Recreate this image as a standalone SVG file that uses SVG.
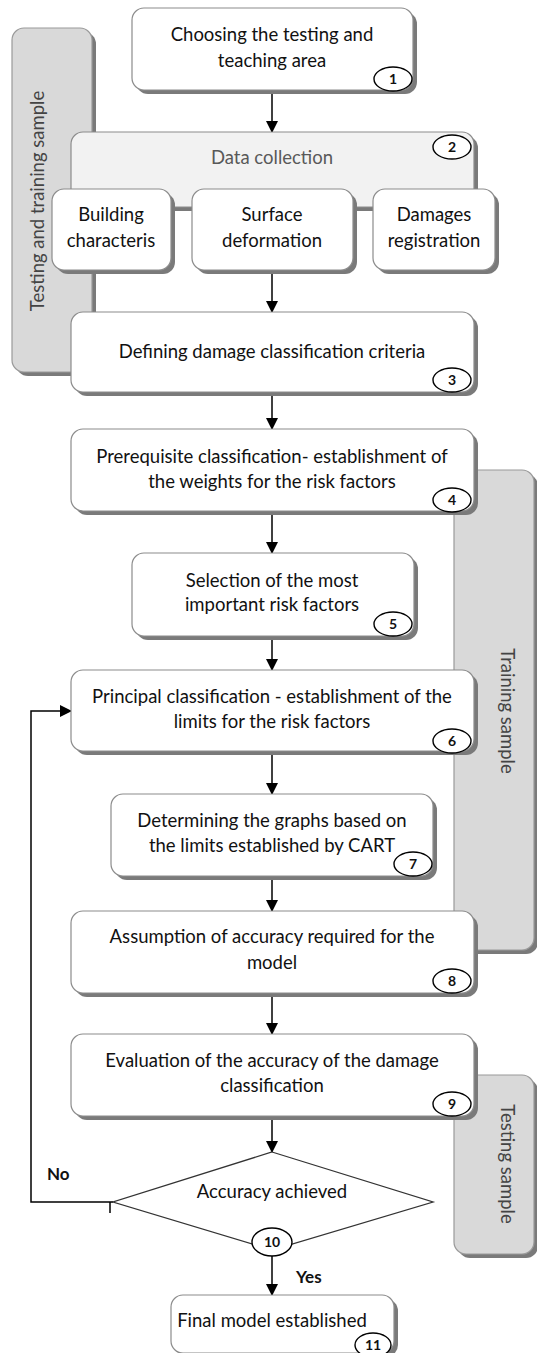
<svg xmlns="http://www.w3.org/2000/svg" width="537" height="1353" viewBox="0 0 537 1353">
<defs>
<marker id="ah" markerWidth="12" markerHeight="12" refX="11" refY="6" orient="auto" markerUnits="userSpaceOnUse">
<path d="M0,0 L12,6 L0,12 Z" fill="#000"/>
</marker>
<style>
.t{font-family:Lato,"Liberation Sans",sans-serif;font-size:18.5px;fill:#111;text-anchor:middle}
.box{fill:#fff;stroke:#8c8c8c;stroke-width:1.2}
.sh{fill:#7a7a7a}
.pan{fill:#d9d9d9;stroke:#9a9a9a;stroke-width:1.2}
.bd{fill:#fff;stroke:#000;stroke-width:1.4}
.bn{font-family:Lato,"Liberation Sans",sans-serif;font-size:14px;font-weight:bold;fill:#111;text-anchor:middle}
.vt{font-family:Lato,"Liberation Sans",sans-serif;font-size:18.5px;fill:#444;text-anchor:middle}
.ln{fill:none;stroke:#000;stroke-width:1.5}
.lb{font-family:Lato,"Liberation Sans",sans-serif;font-size:17px;font-weight:bold;fill:#111}
</style>
</defs>
<rect width="537" height="1353" fill="#fff"/>

<g id="panel-left">
<rect class="sh" x="16" y="32" width="80" height="344" rx="12"/>
<rect class="pan" x="12" y="28" width="80" height="344" rx="12"/>
<text class="vt" transform="translate(44,201) rotate(-90)">Testing and training sample</text>
</g>
<g id="panel-training">
<rect class="sh" x="458" y="474" width="80" height="480" rx="12"/>
<rect class="pan" x="454" y="470" width="80" height="480" rx="12"/>
<text class="vt" transform="translate(501,711) rotate(90)">Training sample</text>
</g>
<g id="panel-testing">
<rect class="sh" x="458" y="1079" width="80" height="179" rx="12"/>
<rect class="pan" x="454" y="1075" width="80" height="179" rx="12"/>
<text class="vt" transform="translate(501,1164) rotate(90)">Testing sample</text>
</g>

<g id="connectors">
<line class="ln" x1="272" y1="90" x2="272" y2="132" marker-end="url(#ah)"/>
<line class="ln" x1="272" y1="270" x2="272" y2="312" marker-end="url(#ah)"/>
<line class="ln" x1="272" y1="392" x2="272" y2="429" marker-end="url(#ah)"/>
<line class="ln" x1="272" y1="511" x2="272" y2="553" marker-end="url(#ah)"/>
<line class="ln" x1="272" y1="636" x2="272" y2="670" marker-end="url(#ah)"/>
<line class="ln" x1="272" y1="751" x2="272" y2="794" marker-end="url(#ah)"/>
<line class="ln" x1="272" y1="876" x2="272" y2="911" marker-end="url(#ah)"/>
<line class="ln" x1="272" y1="993" x2="272" y2="1034" marker-end="url(#ah)"/>
<line class="ln" x1="272" y1="1116" x2="272" y2="1152" marker-end="url(#ah)"/>
<line class="ln" x1="272" y1="1256" x2="272" y2="1295" marker-end="url(#ah)"/>
<path class="ln" d="M113,1202 H31 V711 H71" marker-end="url(#ah)"/>
<line class="ln" x1="110" y1="1202" x2="110" y2="1213"/>
<text class="lb" x="47" y="1180">No</text>
<text class="lb" x="296" y="1283">Yes</text>
</g>

<g id="n1">
<rect class="sh" x="136" y="12" width="281" height="82" rx="12"/>
<rect class="box" x="132" y="8" width="281" height="82" rx="12"/>
<text class="t" x="272" y="41">Choosing the testing and</text>
<text class="t" x="272" y="67">teaching area</text>
<ellipse class="bd" cx="393" cy="79" rx="19" ry="12"/><text class="bn" x="393" y="84">1</text>
</g>

<g id="n2">
<rect class="sh" x="75" y="136" width="403" height="75" rx="12"/>
<rect class="box" x="71" y="132" width="403" height="75" rx="12" style="fill:#f2f2f2"/>
<text class="t" x="272" y="164" style="fill:#595959">Data collection</text>
<ellipse class="bd" cx="452" cy="147" rx="19" ry="12"/><text class="bn" x="452" y="152">2</text>
</g>

<g id="n2a">
<rect class="sh" x="56" y="193" width="119" height="81" rx="12"/>
<rect class="box" x="52" y="189" width="119" height="81" rx="12"/>
<text class="t" x="111" y="221">Building</text>
<text class="t" x="111" y="247">characteris</text>
</g>
<g id="n2b">
<rect class="sh" x="196" y="193" width="161" height="81" rx="12"/>
<rect class="box" x="192" y="189" width="161" height="81" rx="12"/>
<text class="t" x="272" y="221">Surface</text>
<text class="t" x="272" y="247">deformation</text>
</g>
<g id="n2c">
<rect class="sh" x="377" y="193" width="122" height="81" rx="12"/>
<rect class="box" x="373" y="189" width="122" height="81" rx="12"/>
<text class="t" x="434" y="221">Damages</text>
<text class="t" x="434" y="247">registration</text>
</g>

<g id="n3">
<rect class="sh" x="75" y="316" width="403" height="80" rx="12"/>
<rect class="box" x="71" y="312" width="403" height="80" rx="12"/>
<text class="t" x="272" y="358">Defining damage classification criteria</text>
<ellipse class="bd" cx="452" cy="380" rx="19" ry="12"/><text class="bn" x="452" y="385">3</text>
</g>

<g id="n4">
<rect class="sh" x="75" y="433" width="403" height="82" rx="12"/>
<rect class="box" x="71" y="429" width="403" height="82" rx="12"/>
<text class="t" x="272" y="463">Prerequisite classification- establishment of</text>
<text class="t" x="272" y="488">the weights for the risk factors</text>
<ellipse class="bd" cx="452" cy="500" rx="19" ry="12"/><text class="bn" x="452" y="505">4</text>
</g>

<g id="n5">
<rect class="sh" x="136" y="557" width="282" height="83" rx="12"/>
<rect class="box" x="132" y="553" width="282" height="83" rx="12"/>
<text class="t" x="272" y="587">Selection of the most</text>
<text class="t" x="272" y="611">important risk factors</text>
<ellipse class="bd" cx="393" cy="624" rx="19" ry="12"/><text class="bn" x="393" y="629">5</text>
</g>

<g id="n6">
<rect class="sh" x="75" y="674" width="403" height="81" rx="12"/>
<rect class="box" x="71" y="670" width="403" height="81" rx="12"/>
<text class="t" x="272" y="703">Principal classification - establishment of the</text>
<text class="t" x="272" y="728">limits for the risk factors</text>
<ellipse class="bd" cx="452" cy="741" rx="19" ry="12"/><text class="bn" x="452" y="746">6</text>
</g>

<g id="n7">
<rect class="sh" x="115" y="798" width="322" height="82" rx="12"/>
<rect class="box" x="111" y="794" width="322" height="82" rx="12"/>
<text class="t" x="272" y="827">Determining the graphs based on</text>
<text class="t" x="272" y="852">the limits established by CART</text>
<ellipse class="bd" cx="413" cy="864" rx="19" ry="12"/><text class="bn" x="413" y="869">7</text>
</g>

<g id="n8">
<rect class="sh" x="75" y="915" width="403" height="82" rx="12"/>
<rect class="box" x="71" y="911" width="403" height="82" rx="12"/>
<text class="t" x="272" y="943">Assumption of accuracy required for the</text>
<text class="t" x="272" y="969">model</text>
<ellipse class="bd" cx="452" cy="981" rx="19" ry="12"/><text class="bn" x="452" y="986">8</text>
</g>

<g id="n9">
<rect class="sh" x="75" y="1038" width="403" height="82" rx="12"/>
<rect class="box" x="71" y="1034" width="403" height="82" rx="12"/>
<text class="t" x="272" y="1067">Evaluation of the accuracy of the damage</text>
<text class="t" x="272" y="1092">classification</text>
<ellipse class="bd" cx="452" cy="1104" rx="19" ry="12"/><text class="bn" x="452" y="1109">9</text>
</g>

<g id="n10">
<polygon points="272,1152 433,1202 272,1250 113,1202" fill="#fff" stroke="#333" stroke-width="1.3"/>
<text class="t" x="272" y="1198">Accuracy achieved</text>
<ellipse class="bd" cx="272" cy="1242" rx="20" ry="14"/><text class="bn" x="272" y="1247">10</text>
</g>

<g id="n11">
<rect class="sh" x="175" y="1299" width="223" height="58" rx="12"/>
<rect class="box" x="171" y="1295" width="223" height="58" rx="12"/>
<text class="t" x="272" y="1327">Final model established</text>
<ellipse class="bd" cx="373" cy="1345" rx="18" ry="12"/><text class="bn" x="373" y="1350">11</text>
</g>
</svg>
